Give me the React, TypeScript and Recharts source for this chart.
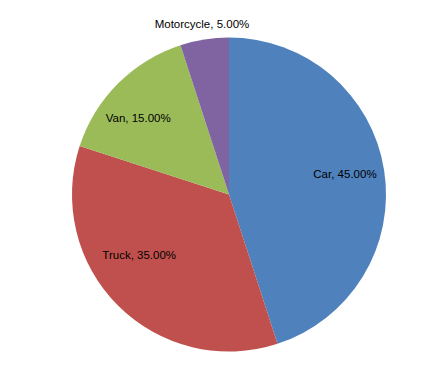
import { PieChart, Pie, Cell } from "recharts";

// Vehicle share, percent of total
const categories = ["Car", "Truck", "Van", "Motorcycle"];
const shares = [45, 35, 15, 5];
const colors = ["#4F81BD", "#C0504D", "#9BBB59", "#8064A2"];

// label placement: fraction of radius, and nudge in degrees off the slice's mid angle
const labelRadius = [0.75, 0.69, 0.755, 1.1];
const labelNudge = [1, -11, 5, 0];

const data = categories.map((name, i) => ({ name, value: shares[i] }));
const total = shares.reduce((a, b) => a + b, 0);

const RAD = Math.PI / 180;

// eslint-disable-next-line @typescript-eslint/no-explicit-any
const SliceLabel = (props: any) => {
  const { cx, cy, midAngle, outerRadius, index, value } = props;
  const r = outerRadius * labelRadius[index];
  const a = (midAngle + labelNudge[index]) * RAD;
  const x = cx + r * Math.cos(a);
  const y = cy - r * Math.sin(a);
  return (
    <text x={x} y={y} textAnchor="middle" dominantBaseline="central" fontSize={11.5} fill="#000" fontFamily="'Liberation Sans', Arial, sans-serif">
      {`${categories[index]}, ${((value / total) * 100).toFixed(2)}%`}
    </text>
  );
};

export default function App() {
  return (
    <div style={{ position: "absolute", left: 0, top: 0, width: 433, height: 379, background: "#fff" }}>
      <PieChart width={433} height={379} margin={{ top: 0, right: 0, bottom: 0, left: 0 }}>
        <Pie
          data={data}
          dataKey="value"
          nameKey="name"
          cx={229}
          cy={194.5}
          outerRadius={157}
          startAngle={90}
          endAngle={-270}
          stroke="none"
          label={SliceLabel}
          labelLine={false}
          isAnimationActive={false}
        >
          {data.map((d, i) => (
            <Cell key={d.name} fill={colors[i]} />
          ))}
        </Pie>
      </PieChart>
    </div>
  );
}
